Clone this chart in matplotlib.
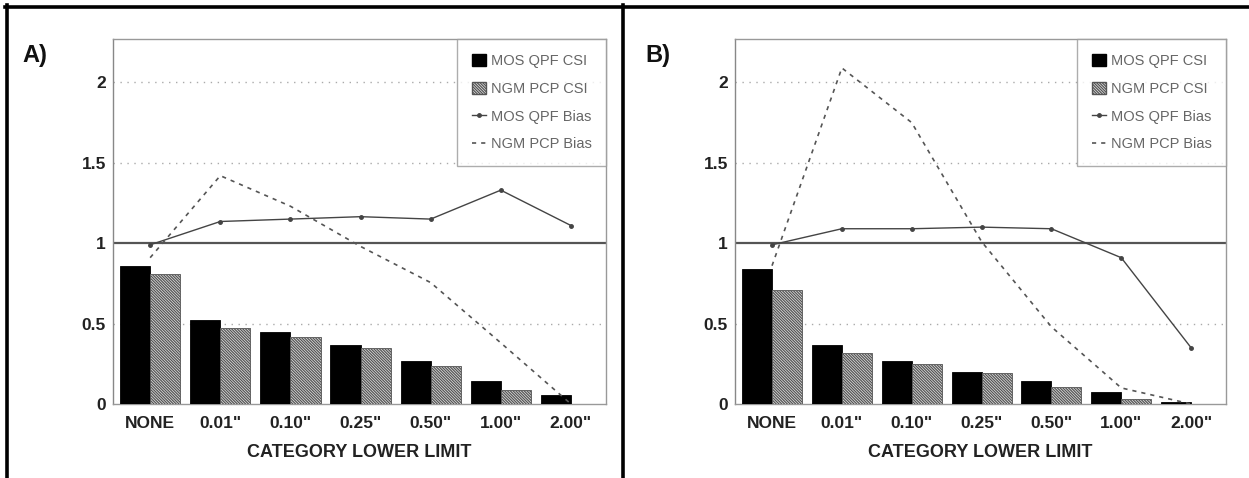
import matplotlib
matplotlib.use("Agg")
import matplotlib.pyplot as plt
from matplotlib.lines import Line2D
from matplotlib.patches import Patch
import numpy as np

plt.rcParams['font.family'] = ['Liberation Sans', 'DejaVu Sans']
plt.rcParams['hatch.linewidth'] = 0.9
plt.rcParams['hatch.color'] = '#555555'

categories = ['NONE', '0.01"', '0.10"', '0.25"', '0.50"', '1.00"', '2.00"']
y_ticks = [0, 0.5, 1, 1.5, 2]
y_tick_labels = ['0', '0.5', '1', '1.5', '2']

# Panel A
a_mos_csi = [0.86, 0.52, 0.445, 0.37, 0.265, 0.145, 0.055]
a_ngm_csi = [0.81, 0.47, 0.415, 0.35, 0.235, 0.085, 0.0]
a_mos_bias = [0.99, 1.135, 1.15, 1.165, 1.15, 1.33, 1.11]
a_ngm_bias = [0.91, 1.42, 1.23, 0.98, 0.755, 0.38, 0.0]

# Panel B
b_mos_csi = [0.84, 0.37, 0.27, 0.20, 0.14, 0.075, 0.01]
b_ngm_csi = [0.71, 0.32, 0.25, 0.19, 0.105, 0.03, 0.0]
b_mos_bias = [0.99, 1.09, 1.09, 1.10, 1.09, 0.91, 0.35]
b_ngm_bias = [0.86, 2.09, 1.75, 1.01, 0.48, 0.10, 0.0]

legend_labels = ['MOS QPF CSI', 'NGM PCP CSI', 'MOS QPF Bias', 'NGM PCP Bias']
panel_labels = ['A)', 'B)']

W, H = 1249, 478
fig = plt.figure(figsize=(W / 100, H / 100), dpi=100)


def px_axes(x0, x1, ytop, ybot):
    return fig.add_axes([x0 / W, 1 - ybot / H, (x1 - x0) / W, (ybot - ytop) / H])


def draw_panel(ax, mos_csi, ngm_csi, mos_bias, ngm_bias):
    x = np.arange(len(categories))
    bw = 0.43
    ax.bar(x - bw / 2, mos_csi, width=bw, color='black', edgecolor='black',
           linewidth=0.6, zorder=3)
    ax.bar(x + bw / 2, ngm_csi, width=bw, color='#e8e8e8', edgecolor='#555555',
           linewidth=0.6, hatch='\\' * 12, zorder=3)
    for yv in [0.5, 1.5, 2.0]:
        ax.axhline(yv, color='#aaaaaa', linewidth=1.0, linestyle=(0, (1, 4)), zorder=1)
    ax.axhline(1.0, color='#555555', linewidth=1.6, zorder=2)
    ax.plot(x, mos_bias, color='#444444', linewidth=1.0, marker='o',
            markersize=2.5, zorder=4)
    ax.plot(x, ngm_bias, color='#555555', linewidth=1.2, linestyle=(0, (2.5, 3)),
            zorder=4)
    ax.set_xlim(-0.53, 6.5)
    ax.set_ylim(0, 2.27)
    ax.set_xticks(x)
    ax.set_xticklabels(categories, fontsize=12.5, fontweight='bold', color='#222222')
    ax.set_yticks(y_ticks)
    ax.set_yticklabels(y_tick_labels, fontsize=12.5, fontweight='bold', color='#222222')
    ax.tick_params(axis='both', length=0)
    ax.tick_params(axis='x', pad=9)
    ax.tick_params(axis='y', pad=5)
    for s in ax.spines.values():
        s.set_color('#999999')
        s.set_linewidth(1.0)
    ax.spines['left'].set_color('#888888')
    ax.set_xlabel('CATEGORY LOWER LIMIT', fontsize=13, fontweight='bold',
                  color='#222222', labelpad=9)
    handles = [
        Patch(facecolor='black', edgecolor='black'),
        Patch(facecolor='#e8e8e8', edgecolor='#555555', hatch='\\' * 12),
        Line2D([], [], color='#444444', linewidth=1.0, marker='o', markersize=2.5),
        Line2D([], [], color='#555555', linewidth=1.2, linestyle=(0, (2.5, 3))),
    ]
    leg = ax.legend(handles, legend_labels, loc='upper right',
                    bbox_to_anchor=(1.0, 1.0), borderaxespad=0.0,
                    fontsize=10.5, frameon=True, fancybox=False,
                    handlelength=1.0, handleheight=0.9, handletextpad=0.3,
                    labelspacing=0.95, borderpad=1.0)
    leg.get_frame().set_edgecolor('#999999')
    leg.get_frame().set_linewidth(1.0)
    for t in leg.get_texts():
        t.set_color('#666666')
    leg.set_zorder(5)


axA = px_axes(113, 606, 39, 404)
draw_panel(axA, a_mos_csi, a_ngm_csi, a_mos_bias, a_ngm_bias)
axB = px_axes(735, 1226, 39, 404)
draw_panel(axB, b_mos_csi, b_ngm_csi, b_mos_bias, b_ngm_bias)

fig.text(22 / W, 1 - 62 / H, panel_labels[0], fontsize=17, fontweight='bold',
         color='#111111', ha='left', va='baseline')
fig.text(645 / W, 1 - 62 / H, panel_labels[1], fontsize=17, fontweight='bold',
         color='#111111', ha='left', va='baseline')

# frame lines of the original figure
fig.add_artist(Line2D([5 / W, 1.0], [1 - 6.5 / H, 1 - 6.5 / H],
                      transform=fig.transFigure, color='black', linewidth=2.6))
fig.add_artist(Line2D([6.5 / W, 6.5 / W], [0, 1 - 5 / H],
                      transform=fig.transFigure, color='black', linewidth=2.6))
fig.add_artist(Line2D([622.5 / W, 622.5 / W], [0, 1 - 5 / H],
                      transform=fig.transFigure, color='black', linewidth=2.6))

fig.savefig('out.png', dpi=100)
